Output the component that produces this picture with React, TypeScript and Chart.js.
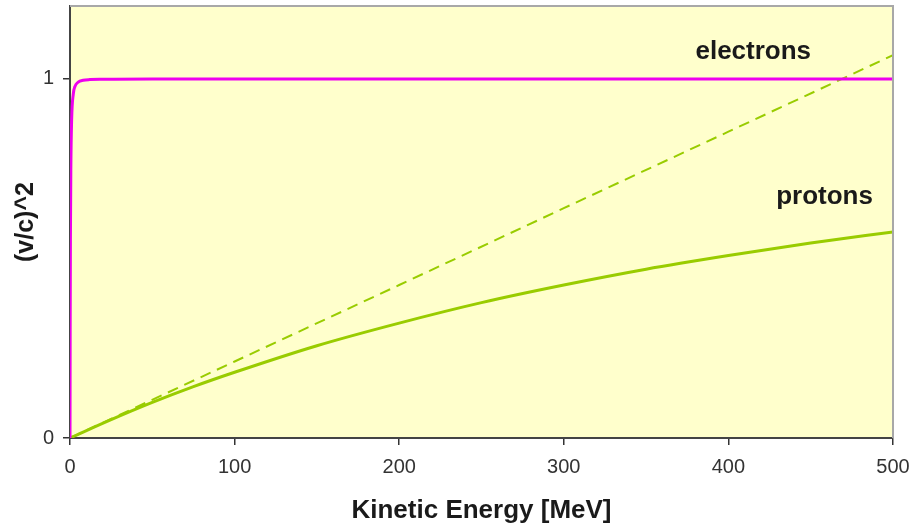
import React, { useEffect, useRef } from "react";
import { Chart, registerables } from "chart.js";

Chart.register(...registerables);

// Kinetic energy [MeV] sample points and (v/c)^2 values
const electronEnergy = [0, 0.1, 0.25, 0.5, 1, 2, 3, 5, 8, 12, 20, 50, 100, 200, 300, 400, 500];
const electronBeta2 = [0, 0.30, 0.549, 0.745, 0.886, 0.958, 0.979, 0.991, 0.996, 0.998, 0.999, 1.0, 1.0, 1.0, 1.0, 1.0, 1.0];

const protonEnergy = [0, 25, 50, 75, 100, 150, 200, 250, 300, 350, 400, 450, 500];
const protonBeta2 = [0, 0.051, 0.099, 0.143, 0.183, 0.257, 0.32, 0.377, 0.426, 0.47, 0.508, 0.543, 0.574];

const classicalEnergy = [0, 100, 200, 300, 400, 500];
const classicalBeta2 = [0, 0.213, 0.426, 0.64, 0.853, 1.066];

const xTicks = [0, 100, 200, 300, 400, 500];
const yTicks = [0, 1];

const labels = [
  { text: "electrons", x: 380, y: 1.055 },
  { text: "protons", x: 429, y: 0.652 },
];

const FONT = "'Liberation Sans', Arial, sans-serif";

const toPts = (xs: number[], ys: number[]) => xs.map((x, i) => ({ x, y: ys[i] }));

const zeroPad = (s: any) => {
  s.paddingTop = 0;
  s.paddingBottom = 0;
  s.paddingLeft = 0;
  s.paddingRight = 0;
};

export default function App() {
  const ref = useRef<HTMLCanvasElement | null>(null);

  useEffect(() => {
    if (!ref.current) return;
    const bgPlugin = {
      id: "bgPlugin",
      beforeDraw(chart: any) {
        const { ctx, chartArea: a } = chart;
        ctx.save();
        ctx.fillStyle = "#FFFFCC";
        ctx.fillRect(a.left, a.top, a.right - a.left, a.bottom - a.top);
        ctx.restore();
      },
      afterDraw(chart: any) {
        const { ctx, chartArea: a, scales } = chart;
        ctx.save();
        ctx.strokeStyle = "#A8A8A8";
        ctx.lineWidth = 2;
        ctx.beginPath();
        ctx.moveTo(a.left, a.top);
        ctx.lineTo(a.right, a.top);
        ctx.lineTo(a.right, a.bottom);
        ctx.stroke();
        ctx.fillStyle = "#1a1a1a";
        ctx.font = `bold 26px ${FONT}`;
        ctx.textAlign = "left";
        ctx.textBaseline = "alphabetic";
        for (const l of labels) {
          ctx.fillText(l.text, scales.x.getPixelForValue(l.x), scales.y.getPixelForValue(l.y));
        }
        ctx.restore();
      },
    };

    const chart = new Chart(ref.current, {
      type: "line",
      data: {
        datasets: [
          {
            label: "electrons",
            data: toPts(electronEnergy, electronBeta2),
            borderColor: "#EE00EE",
            borderWidth: 3,
            pointRadius: 0,
            cubicInterpolationMode: "monotone",
            fill: false,
          },
          {
            label: "classical",
            data: toPts(classicalEnergy, classicalBeta2),
            borderColor: "#99CC00",
            borderWidth: 2,
            borderDash: [11, 7],
            pointRadius: 0,
            fill: false,
          },
          {
            label: "protons",
            data: toPts(protonEnergy, protonBeta2),
            borderColor: "#99CC00",
            borderWidth: 3,
            pointRadius: 0,
            cubicInterpolationMode: "monotone",
            fill: false,
          },
        ],
      },
      options: {
        animation: false,
        responsive: false,
        devicePixelRatio: 1,
        layout: { padding: { top: 6, right: 17, left: 0, bottom: 0 } },
        plugins: { legend: { display: false }, tooltip: { enabled: false } },
        scales: {
          x: {
            type: "linear",
            min: 0,
            max: 500,
            afterFit(s: any) {
              s.height = 88;
              zeroPad(s);
            },
            afterBuildTicks(s: any) {
              s.ticks = xTicks.map((v) => ({ value: v }));
            },
            grid: { drawOnChartArea: false, drawTicks: true, tickLength: 7, color: "#333", lineWidth: 1.5 },
            border: { color: "#444", width: 2 },
            ticks: { color: "#333", font: { family: FONT, size: 20 }, padding: 10, maxRotation: 0 },
            title: {
              display: true,
              text: "Kinetic Energy [MeV]",
              color: "#1a1a1a",
              font: { family: FONT, size: 26, weight: "bold" },
              padding: { top: 0, bottom: 0 },
            },
          },
          y: {
            type: "linear",
            min: 0,
            max: 1.203,
            afterFit(s: any) {
              s.width = 70;
              zeroPad(s);
            },
            afterBuildTicks(s: any) {
              s.ticks = yTicks.map((v) => ({ value: v }));
            },
            grid: { drawOnChartArea: false, drawTicks: true, tickLength: 7, color: "#333", lineWidth: 1.5 },
            border: { color: "#444", width: 2 },
            ticks: { color: "#333", font: { family: FONT, size: 20 }, padding: 9 },
            title: {
              display: true,
              text: "(v/c)^2",
              color: "#1a1a1a",
              font: { family: FONT, size: 25, weight: "bold" },
              padding: { top: 11, bottom: 0 },
            },
          },
        },
      },
      plugins: [bgPlugin],
    } as any);
    return () => chart.destroy();
  }, []);

  return (
    <div style={{ position: "fixed", left: 0, top: 0, width: 910, height: 526, background: "#fff" }}>
      <canvas ref={ref} width={910} height={526} style={{ display: "block" }} />
    </div>
  );
}
